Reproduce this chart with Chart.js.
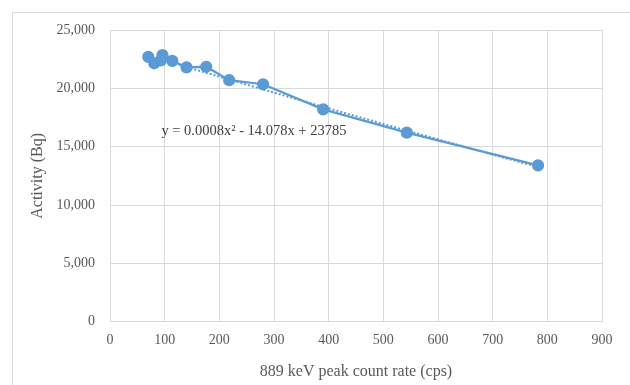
<!DOCTYPE html>
<html>
<head>
<meta charset="utf-8">
<script src="https://cdn.jsdelivr.net/npm/chart.js@4.4.1/dist/chart.umd.min.js"></script>
<style>
  html, body { margin: 0; padding: 0; background: #fff; overflow: hidden; }
  #frame { position: absolute; left: 12px; top: 12px; width: 660px; height: 420px; border: 1px solid #d9d9d9; }
  #wrap { position: absolute; left: 0; top: 0; width: 630px; height: 385px; }
</style>
</head>
<body>
<div id="frame"></div>
<div id="wrap"><canvas id="c" width="630" height="385"></canvas></div>
<script>
// count rate (cps) vs activity (Bq)
const countRate = [70, 81, 93, 96, 114, 140, 176, 218, 280, 390, 543, 783];
const activity = [22700, 22150, 22400, 22850, 22350, 21800, 21850, 20700, 20350, 18200, 16200, 13400];

// polynomial trendline y = a*x^2 + b*x + c
const trendCoef = [0.0008, -14.078, 23785];
const trendLabel = "y = 0.0008x\u00B2 - 14.078x + 23785";
const trendLabelAt = [94, 16350];

const xTicks = [0, 100, 200, 300, 400, 500, 600, 700, 800, 900];
const yTicks = [0, 5000, 10000, 15000, 20000, 25000];

const blue = "#5b9bd5";
const grey = "#595959";
const serif = "'Liberation Serif', 'Times New Roman', serif";

const points = countRate.map((x, i) => ({ x: x, y: activity[i] }));

const trend = [];
const x0 = Math.min(...countRate), x1 = Math.max(...countRate);
for (let k = 0; k <= 60; k++) {
  const x = x0 + (x1 - x0) * k / 60;
  trend.push({ x: x, y: trendCoef[0] * x * x + trendCoef[1] * x + trendCoef[2] });
}

const eqLabel = {
  id: "eqLabel",
  afterDatasetsDraw(chart) {
    const ctx = chart.ctx;
    const px = chart.scales.x.getPixelForValue(trendLabelAt[0]);
    const py = chart.scales.y.getPixelForValue(trendLabelAt[1]);
    ctx.save();
    ctx.font = "14.5px " + serif;
    ctx.fillStyle = "#404040";
    ctx.textAlign = "left";
    ctx.textBaseline = "middle";
    ctx.fillText(trendLabel, px, py);
    ctx.restore();
  },
};

new Chart(document.getElementById("c"), {
  type: "scatter",
  data: {
    datasets: [
      {
        label: "Activity",
        data: points,
        showLine: true,
        borderColor: blue,
        backgroundColor: blue,
        borderWidth: 2.25,
        pointRadius: 5,
        pointHoverRadius: 5,
        tension: 0,
        order: 1,
      },
      {
        label: "Trend",
        data: trend,
        showLine: true,
        borderColor: blue,
        borderWidth: 2,
        borderDash: [2, 2],
        pointRadius: 0,
        tension: 0,
        order: 2,
      },
    ],
  },
  options: {
    responsive: false,
    animation: false,
    layout: { padding: { left: 0, top: 30, right: 28, bottom: 0 } },
    plugins: { legend: { display: false }, tooltip: { enabled: false } },
    scales: {
      x: {
        type: "linear",
        min: 0,
        max: 900,
        afterBuildTicks: (s) => { s.ticks = xTicks.map((v) => ({ value: v })); },
        afterFit: (s) => { s.height = 63.3; },
        grid: { color: "#d9d9d9", drawTicks: false },
        border: { color: "#d9d9d9" },
        ticks: { color: grey, font: { family: serif, size: 14 }, padding: 10 },
        title: {
          display: true,
          text: "889 keV peak count rate (cps)",
          color: grey,
          font: { family: serif, size: 16 },
          padding: { top: 0, bottom: 4 },
        },
      },
      y: {
        min: 0,
        max: 25000,
        afterBuildTicks: (s) => { s.ticks = yTicks.map((v) => ({ value: v })); },
        afterFit: (s) => { s.width = 110; },
        grid: { color: "#d9d9d9", drawTicks: false },
        border: { color: "#d9d9d9" },
        ticks: {
          color: grey,
          font: { family: serif, size: 14 },
          padding: 15,
          callback: (v) => v.toLocaleString("en-US"),
        },
        title: {
          display: true,
          text: "Activity (Bq)",
          color: grey,
          font: { family: serif, size: 16 },
          padding: { top: 28, bottom: 0 },
        },
      },
    },
  },
  plugins: [eqLabel],
});
</script>
</body>
</html>
